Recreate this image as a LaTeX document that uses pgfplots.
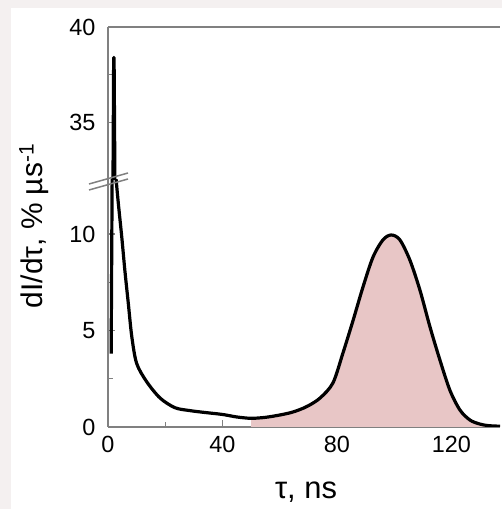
\documentclass[border=0pt]{standalone}
\usepackage{pgfplots}
\pgfplotsset{compat=1.18}
\usepackage{fontspec}
\setmainfont{Liberation Sans}
\definecolor{bgout}{RGB}{244,240,240}
\definecolor{spine}{RGB}{128,128,128}
\definecolor{pinkfill}{RGB}{232,198,198}
\pgfplotstableread{
x y
1.1 3.8
1.45 13
1.85 33
2.05 38.4
2.3 33
2.6 13.2
}\spike
\pgfplotstableread{
x y
2.6 13.2
3.6 11.6
4.8 9.86
5.9 8.1
7.1 6.4
8.3 4.7
10 3.3
13.5 2.35
18.2 1.5
23.4 1.0
28.6 0.85
34 0.75
40 0.65
45 0.52
50 0.45
55 0.5
60 0.62
64 0.75
67 0.9
70 1.1
74.1 1.5
78.6 2.28
82.1 3.83
85.6 5.5
89.1 7.25
92.6 8.8
96.1 9.7
99 9.95
102 9.7
105.5 8.65
109 7.1
112.5 5.2
116 3.47
119.5 1.9
123 0.88
126.5 0.36
130 0.15
133 0.07
137 0.04
}\curve
\pgfplotstableread{
x y
50 0.45
55 0.5
60 0.62
64 0.75
67 0.9
70 1.1
74.1 1.5
78.6 2.28
82.1 3.83
85.6 5.5
89.1 7.25
92.6 8.8
96.1 9.7
99 9.95
102 9.7
105.5 8.65
109 7.1
112.5 5.2
116 3.47
119.5 1.9
123 0.88
126.5 0.36
130 0.15
133 0.07
137 0.04
}\peak
\pgfplotsset{
  common/.style={
    scale only axis,
    width=392bp,
    xmin=0, xmax=137,
    tick align=inside,
    axis line style={spine, line width=1.4bp},
    every tick/.style={spine, line width=1.2bp},
    major tick length=7bp,
    minor tick length=5bp,
    /pgf/number format/assume math mode=true,
    tick label style={font=\fontsize{23.5}{27}\selectfont},
    clip=true,
  }
}
\begin{document}
\begin{tikzpicture}[x=1bp,y=1bp]
\useasboundingbox (0,0) rectangle (502,509);
\fill[bgout] (0,0) rectangle (502,509);
\fill[white] (11,0) rectangle (502,501);
% lower axis
\begin{axis}[common,
  at={(108bp,82bp)}, anchor=south west,
  height=247bp,
  ymin=0, ymax=12.8,
  axis x line*=bottom, axis y line*=left,
  xtick={0,40,80,120}, minor xtick={20,60,100},
  ytick={0,5,10}, minor ytick={2.5,7.5},
  yticklabel style={xshift=-9bp},
  xticklabel style={yshift=-6bp},
]
\addplot[fill=pinkfill, draw=none, smooth, tension=0.5] table[x=x,y=y] {\peak} \closedcycle;
\addplot[black, line width=3.2bp, line join=round] table[x=x,y=y] {\spike};
\addplot[black, line width=3.2bp, line join=round, smooth, tension=0.5] table[x=x,y=y] {\curve};
\end{axis}
% upper axis
\begin{axis}[common,
  at={(108bp,329bp)}, anchor=south west,
  height=153bp,
  ymin=32, ymax=40,
  axis x line*=top, axis y line*=left,
  xtick=\empty,
  ytick={35,40}, minor ytick={37.5},
  yticklabel style={xshift=-9bp},
]
\addplot[black, line width=3.6bp, line join=round] table[x=x,y=y] {\spike};
\end{axis}
% axis break marks
\draw[spine, line width=1.5bp] (89,325) -- (128,336);
\draw[spine, line width=1.5bp] (89,319) -- (128,330);
% labels
\node[rotate=90, font=\fontsize{30}{34}\selectfont] at (34,283) {dI/dτ, \% µs\textsuperscript{-1}};
\node[font=\fontsize{31}{35}\selectfont, anchor=base] at (306,10) {τ, ns};
\end{tikzpicture}
\end{document}
